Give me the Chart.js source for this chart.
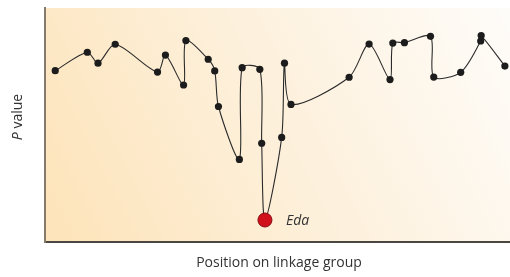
<!DOCTYPE html>
<html>
<head>
<meta charset="utf-8">
<script src="https://cdn.jsdelivr.net/npm/chart.js@4"></script>
<style>
  html, body { margin: 0; padding: 0; background: #ffffff; }
  #wrap { width: 510px; height: 277px; position: relative; }
</style>
</head>
<body>
<div id="wrap"><canvas id="c" width="510" height="277"></canvas></div>
<script>
// Position along the linkage group (arbitrary units, 0-100)
const positions = [2.2, 9.1, 11.4, 15.1, 24.2, 25.9, 29.8, 30.3, 35.1, 36.5, 37.3, 41.8, 42.4, 46.2, 46.6, 47.3, 50.9, 51.5, 52.9, 65.4, 69.7, 74.2, 74.8, 77.3, 82.9, 83.6, 89.4, 93.7, 93.8, 98.9];
// P value (arbitrary units, 0-100)
const pValues = [73.2, 81.1, 76.4, 84.5, 72.6, 79.9, 67.1, 86.1, 78.1, 73.1, 57.9, 35.3, 74.5, 73.8, 42.2, 9.4, 44.7, 76.4, 58.8, 70.4, 84.6, 69.4, 85.0, 85.2, 87.9, 70.5, 72.5, 85.9, 88.2, 75.2];
// Highlighted gene
const geneLabel = 'Eda';
const geneIndex = 15;

const xTitle = 'Position on linkage group';
const yTitleItalic = 'P';
const yTitleRest = ' value';

const FONT = '"Open Sans", "Noto Sans", sans-serif';

const points = positions.map((x, i) => ({ x: x, y: pValues[i] }));

const bgPlugin = {
  id: 'bg',
  beforeDraw(chart) {
    const { ctx, chartArea: a } = chart;
    ctx.save();
    const g = ctx.createLinearGradient(a.left, a.bottom, a.right, a.top);
    g.addColorStop(0, '#fde3b8');
    g.addColorStop(0.45, '#fdefd8');
    g.addColorStop(1, '#fefcf9');
    ctx.fillStyle = g;
    ctx.fillRect(a.left, a.top, a.right - a.left, a.bottom - a.top);
    ctx.restore();
  },
  afterDraw(chart) {
    const { ctx, chartArea: a } = chart;
    ctx.save();
    ctx.fillStyle = '#333333';
    // x title
    ctx.font = '14px ' + FONT;
    ctx.textAlign = 'center';
    ctx.textBaseline = 'middle';
    ctx.fillText(xTitle, 279, 263);
    // y title with italic P
    ctx.translate(18, 117);
    ctx.rotate(-Math.PI / 2);
    ctx.font = 'italic 14px ' + FONT;
    const w1 = ctx.measureText(yTitleItalic).width;
    ctx.font = '14px ' + FONT;
    const w2 = ctx.measureText(yTitleRest).width;
    const start = -(w1 + w2) / 2;
    ctx.textAlign = 'left';
    ctx.font = 'italic 14px ' + FONT;
    ctx.fillText(yTitleItalic, start, 0);
    ctx.font = '14px ' + FONT;
    ctx.fillText(yTitleRest, start + w1, 0);
    ctx.restore();
    // gene label
    const el = chart.getDatasetMeta(0).data[geneIndex];
    ctx.save();
    ctx.fillStyle = '#333333';
    ctx.font = 'italic 14px ' + FONT;
    ctx.textAlign = 'left';
    ctx.textBaseline = 'middle';
    ctx.fillText(geneLabel, el.x + 21, el.y + 1);
    ctx.restore();
  }
};

new Chart(document.getElementById('c'), {
  type: 'scatter',
  data: {
    datasets: [{
      data: points,
      showLine: true,
      borderColor: '#2b2b2b',
      borderWidth: 1.1,
      tension: 0.28,
      pointRadius: points.map((p, i) => i === geneIndex ? 7 : 3.6),
      pointBackgroundColor: points.map((p, i) => i === geneIndex ? '#d0111c' : '#1c1c1c'),
      pointBorderColor: points.map((p, i) => i === geneIndex ? '#8a0a12' : '#1c1c1c'),
      pointBorderWidth: points.map((p, i) => i === geneIndex ? 1 : 0),
      clip: false
    }]
  },
  options: {
    responsive: false,
    animation: false,
    events: [],
    layout: { autoPadding: false, padding: { left: 45, right: 0, top: 8, bottom: 35 } },
    plugins: { legend: { display: false }, tooltip: { enabled: false } },
    scales: {
      x: {
        type: 'linear', min: 0, max: 100,
        grid: { display: false, drawTicks: false },
        ticks: { display: false, padding: 0 },
        border: { display: true, color: '#4a4743', width: 2 },
        afterFit(s) { s.height = 0; s.paddingLeft = 0; s.paddingRight = 0; }
      },
      y: {
        type: 'linear', min: 0, max: 100,
        grid: { display: false, drawTicks: false },
        ticks: { display: false, padding: 0 },
        border: { display: true, color: '#857a6c', width: 2 },
        afterFit(s) { s.width = 0; s.paddingTop = 0; s.paddingBottom = 0; }
      }
    }
  },
  plugins: [bgPlugin]
});
</script>
</body>
</html>
